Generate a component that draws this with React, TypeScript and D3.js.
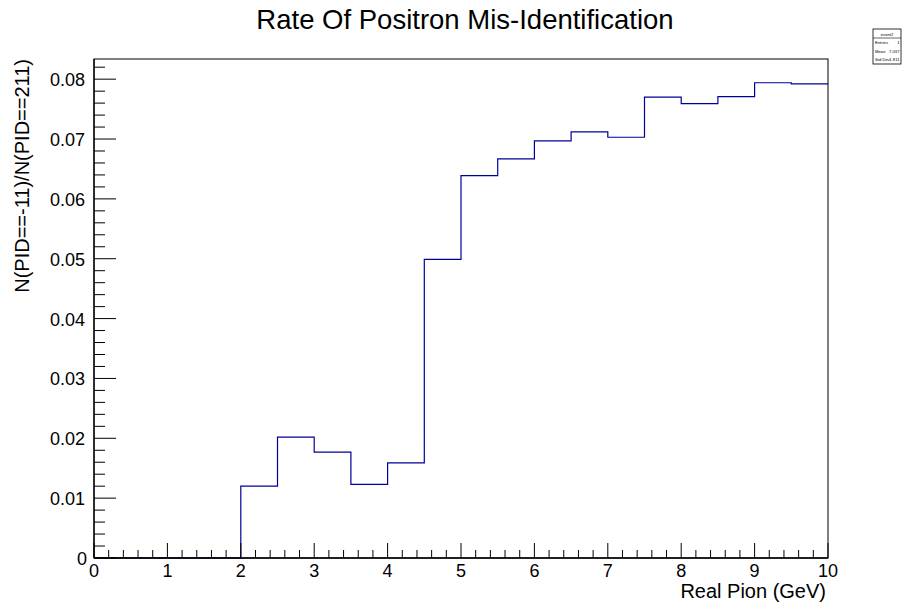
import React from 'react';
import * as d3 from 'd3';

// bin edges 0..10, width 0.5
const binEdges = d3.range(0, 10.0001, 0.5).map((v) => +v.toFixed(2));
const binValues = [
  0, 0, 0, 0,
  0.0120, 0.0202, 0.0177, 0.0123, 0.0159, 0.0499,
  0.0639, 0.0667, 0.0697, 0.0712, 0.0703, 0.0770,
  0.0759, 0.0771, 0.0794, 0.0792,
];
const xTicks = [0, 1, 2, 3, 4, 5, 6, 7, 8, 9, 10];
const yTicks = [0, 0.01, 0.02, 0.03, 0.04, 0.05, 0.06, 0.07, 0.08];
const statsRows = [
  ['Entries', '1'],
  ['Mean', '7.037'],
  ['Std Dev', '1.811'],
];

const W = 902;
const H = 602;
const margin = { left: 94, right: 74, top: 59, bottom: 44 };
const font = '"Liberation Sans", Arial, Helvetica, sans-serif';

export default function App() {
  const x = d3.scaleLinear().domain([0, 10]).range([margin.left, W - margin.right]);
  const yMax = d3.max(binValues)! * 1.05;
  const y = d3.scaleLinear().domain([0, yMax]).range([H - margin.bottom, margin.top]);

  const x0 = x(0), x1 = x(10), yb = y(0), yt = margin.top;

  // step path
  const pts: [number, number][] = [];
  binValues.forEach((v, i) => {
    pts.push([binEdges[i], v]);
    pts.push([binEdges[i + 1], v]);
  });
  const line = d3.line<[number, number]>().x((d) => x(d[0])).y((d) => y(d[1]));
  const pathD = line([[0, 0], ...pts]) ?? '';

  const xMinor = d3.range(0, 10.0001, 0.2).filter((v) => Math.abs(v - Math.round(v)) > 1e-6);
  const yMinor = d3.range(0, yMax, 0.002).filter((v) => Math.abs(v * 100 - Math.round(v * 100)) > 1e-6);

  return (
    <svg width={W} height={H} style={{ position: 'absolute', left: 0, top: 0, background: '#fff' }} fontFamily={font}>
      <rect x={0} y={0} width={W} height={H} fill="#fff" />
      {/* title */}
      <text x={465} y={29} textAnchor="middle" fontSize={27.5} fill="#000">
        Rate Of Positron Mis-Identification
      </text>

      {/* histogram */}
      <path d={pathD} fill="none" stroke="#000099" strokeWidth={1.2} />

      {/* frame */}
      <rect x={x0} y={yt} width={x1 - x0} height={yb - yt} fill="none" stroke="#000" strokeWidth={1} />
      <line x1={x0} x2={x0} y1={yt} y2={yb} stroke="#000" strokeWidth={1.3} />
      <line x1={x0} x2={x1} y1={yb} y2={yb} stroke="#000" strokeWidth={1.3} />

      {/* x ticks */}
      {xTicks.map((t) => (
        <g key={'xt' + t}>
          <line x1={x(t)} x2={x(t)} y1={yb} y2={yb - 15} stroke="#000" />
          <text x={x(t)} y={577} textAnchor="middle" fontSize={18}>{t}</text>
        </g>
      ))}
      {xMinor.map((t) => (
        <line key={'xm' + t} x1={x(t)} x2={x(t)} y1={yb} y2={yb - 8} stroke="#000" />
      ))}

      {/* y ticks */}
      {yTicks.map((t) => (
        <g key={'yt' + t}>
          <line x1={x0} x2={x0 + 22} y1={y(t)} y2={y(t)} stroke="#000" />
          <text x={t === 0 ? 87 : 85} y={y(t) + 7} textAnchor="end" fontSize={18}>
            {t === 0 ? '0' : d3.format('.2f')(t)}
          </text>
        </g>
      ))}
      {yMinor.map((t) => (
        <line key={'ym' + t} x1={x0} x2={x0 + 11} y1={y(t)} y2={y(t)} stroke="#000" />
      ))}

      {/* axis titles */}
      <text x={826} y={598} textAnchor="end" fontSize={20}>Real Pion (GeV)</text>
      <text transform={`translate(29, ${yt}) rotate(-90)`} textAnchor="end" fontSize={20}>
        N(PID==-11)/N(PID==211)
      </text>

      {/* stats box */}
      <g fontSize={4.2}>
        <rect x={873} y={29} width={28} height={35} fill="#fff" stroke="#000" strokeWidth={0.8} />
        <line x1={873} x2={901} y1={38} y2={38} stroke="#000" strokeWidth={0.6} />
        <text x={887} y={35.5} textAnchor="middle">event2</text>
        {statsRows.map((r, i) => (
          <g key={r[0]}>
            <text x={875} y={44 + i * 8.5}>{r[0]}</text>
            <text x={899.5} y={44 + i * 8.5} textAnchor="end">{r[1]}</text>
          </g>
        ))}
      </g>
    </svg>
  );
}
